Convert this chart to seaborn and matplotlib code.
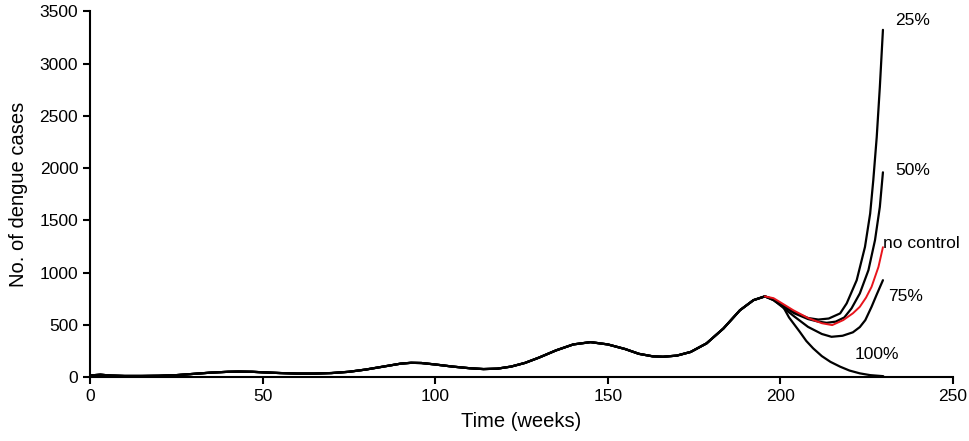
import numpy as np
import pandas as pd
import matplotlib
matplotlib.use("Agg")
import matplotlib.pyplot as plt
import seaborn as sns

# Shared epidemic curve up to the intervention point (weeks, cases)
base_t = [0, 3, 6, 10, 15, 20, 25, 30, 35, 40, 43, 47, 50, 55, 60, 65, 70, 75, 80, 85,
          90, 93, 96, 100, 105, 110, 114, 118, 122, 126, 130, 135, 140, 145, 150, 155,
          159, 163, 166, 170, 174, 178.6, 183.5, 188.3, 192.2, 195.5]
base_y = [15, 22, 14, 10, 10, 12, 18, 30, 42, 50, 52, 50, 45, 38, 33, 33, 38, 50, 72, 100,
          128, 136, 134, 120, 100, 84, 76, 80, 100, 135, 185, 255, 312, 334, 312, 268,
          222, 198, 194, 205, 240, 322, 465, 640, 736, 772]

# Scenario branches after week ~196
t25 = [198, 200, 204, 208, 211, 214, 217.3, 219.2, 222.1, 224.5, 226.0, 226.9, 227.9, 228.8, 229.7]
y25 = [745, 700, 620, 565, 550, 560, 609, 705, 927, 1246, 1565, 1883, 2297, 2775, 3324]

t50 = [198, 200, 204, 208, 211, 213.4, 216, 218.5, 220.6, 223.0, 225.5, 227.4, 228.8, 229.7]
y50 = [742, 695, 610, 555, 530, 519, 530, 570, 657, 800, 1023, 1310, 1628, 1960]

tnc = [195.5, 198, 200, 203.7, 208, 212, 215, 218.2, 221, 223, 224.8, 226.4, 228.4, 229.7]
ync = [772, 755, 715, 640, 565, 515, 497, 545, 610, 672, 760, 863, 1054, 1243]

t75 = [198, 200, 204, 208, 212, 214.8, 218, 221, 223, 224.6, 226.4, 227.9, 229.7]
y75 = [738, 685, 580, 480, 412, 385, 395, 428, 478, 545, 672, 790, 927]

t100 = [198, 200.8, 202.5, 205.6, 207.5, 209.5, 212, 214.5, 217.3, 220, 223, 226, 229.8]
y100 = [735, 672, 570, 433, 345, 274, 200, 145, 99, 62, 35, 18, 8]

labels = ["25%", "50%", "no control", "75%", "100%"]
label_x = [233.2, 233.2, 229.6, 231.2, 221.6]
label_y = [3413, 1979, 1281, 774, 220]

x_ticks = [0, 50, 100, 150, 200, 250]
y_ticks = [0, 500, 1000, 1500, 2000, 2500, 3000, 3500]

sns.set_style("ticks")
plt.rcParams["font.family"] = ["Liberation Sans", "DejaVu Sans"]
plt.rcParams["text.color"] = "black"
plt.rcParams["axes.labelcolor"] = "black"

fig = plt.figure(figsize=(9.69, 4.41), dpi=100)
ax = fig.add_axes([0.0929, 0.1451, 0.8906, 0.8289])

def full(tb, yb):
    return pd.DataFrame({"t": base_t + tb, "y": base_y + yb})

for tb, yb in [(t25, y25), (t50, y50), (t75, y75), (t100, y100)]:
    d = full(tb, yb)
    sns.lineplot(data=d, x="t", y="y", color="black", lw=1.6, ax=ax, sort=False,
                 estimator=None)
d = pd.DataFrame({"t": tnc, "y": ync})
sns.lineplot(data=d, x="t", y="y", color="#e8141c", lw=1.4, ax=ax, sort=False,
             estimator=None)

for lab, lx, ly in zip(labels, label_x, label_y):
    ax.text(lx, ly, lab, fontsize=12.5, ha="left", va="center", color="black",
            clip_on=False)

ax.set_xlim(0, 250)
ax.set_ylim(0, 3500)
ax.set_xticks(x_ticks)
ax.set_yticks(y_ticks)
ax.tick_params(direction="out", length=5, width=1.5, labelsize=12.5, colors="black")
ax.set_xlabel("Time (weeks)", fontsize=14.5, color="black", labelpad=6)
ax.set_ylabel("No. of dengue cases", fontsize=14.5, color="black", labelpad=8)
for s in ["left", "bottom"]:
    ax.spines[s].set_linewidth(1.5)
    ax.spines[s].set_color("black")
sns.despine(ax=ax)

fig.savefig("out.png", dpi=100)
